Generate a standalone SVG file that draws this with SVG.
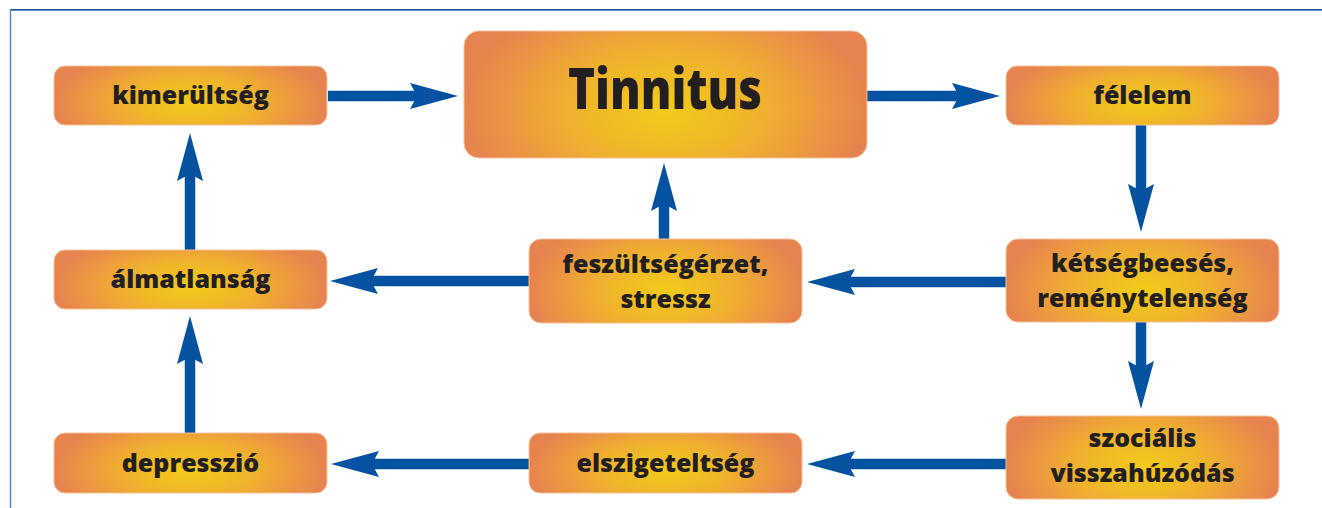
<svg xmlns="http://www.w3.org/2000/svg" width="1322" height="508" viewBox="0 0 1322 508">
<style>
.box{fill:url(#g);stroke:#F4C09A;stroke-width:1}
.t{font-family:"Open Sans","Liberation Sans",sans-serif;font-weight:800;font-size:25px;fill:#231F20;text-anchor:middle}
.big{font-size:56px}
.c line{stroke:#0553A0;stroke-width:10.5;marker-end:url(#ah)}
</style>
<defs>
<radialGradient id="g" cx="0.5" cy="0.62" r="0.5" gradientTransform="translate(0.5,0.62) scale(1,1.9) translate(-0.5,-0.62)">
<stop offset="0" stop-color="#F3CB17"/>
<stop offset="0.5" stop-color="#EFB02F"/>
<stop offset="1" stop-color="#E7834F"/>
</radialGradient>
<marker id="ah" markerUnits="userSpaceOnUse" orient="auto" refX="0" refY="0" markerWidth="60" markerHeight="30" style="overflow:visible">
<path d="M-8,-13 L40,0 L-8,13 L-1,0 Z" fill="#0553A0"/>
</marker>
</defs>
<rect width="1322" height="508" fill="#fff"/>
<g id="frame">
<line x1="10" y1="9.5" x2="1322" y2="9.5" stroke="#22508F" stroke-width="1"/>
<line x1="10" y1="10.5" x2="1322" y2="10.5" stroke="#5E95D0" stroke-width="1"/>
<line x1="10.5" y1="9" x2="10.5" y2="508" stroke="#4F88C8" stroke-width="1.5"/>
</g>
<g class="c" id="connectors">
<line x1="328" y1="96" x2="418" y2="96"/>
<line x1="867" y1="96" x2="960" y2="96"/>
<line x1="1141" y1="125" x2="1141" y2="192"/>
<line x1="1141" y1="322" x2="1141" y2="369"/>
<line x1="1006" y1="282" x2="847" y2="282"/>
<line x1="664" y1="239" x2="664" y2="203"/>
<line x1="529" y1="281" x2="370" y2="281"/>
<line x1="1006" y1="464" x2="847" y2="464"/>
<line x1="529" y1="464" x2="371" y2="464"/>
<line x1="190" y1="433" x2="190" y2="356"/>
<line x1="190" y1="250" x2="190" y2="173"/>
</g>
<g id="n-kimerultseg"><rect class="box" x="54" y="66" width="273" height="59" rx="11"/><text class="t" x="190.5" y="103.5">kimerültség</text></g>
<g id="n-tinnitus"><rect class="box" x="464" y="31" width="403" height="127" rx="15"/><text class="t big" x="665" y="109" textLength="194" lengthAdjust="spacingAndGlyphs">Tinnitus</text></g>
<g id="n-felelem"><rect class="box" x="1006" y="66" width="273" height="59" rx="11"/><text class="t" x="1142.5" y="103.5">félelem</text></g>
<g id="n-almatlansag"><rect class="box" x="54" y="250" width="273" height="59" rx="11"/><text class="t" x="190.5" y="287.5">álmatlanság</text></g>
<g id="n-feszultseg"><rect class="box" x="529" y="239" width="273" height="84" rx="12"/><text class="t" x="665.5" y="273">feszültségérzet,</text><text class="t" x="665.5" y="308">stressz</text></g>
<g id="n-ketsegbeeses"><rect class="box" x="1006" y="239" width="273" height="83" rx="12"/><text class="t" x="1142.5" y="272">kétségbeesés,</text><text class="t" x="1142.5" y="307">reménytelenség</text></g>
<g id="n-depresszio"><rect class="box" x="54" y="433" width="273" height="60" rx="11"/><text class="t" x="190.5" y="472">depresszió</text></g>
<g id="n-elszigeteltseg"><rect class="box" x="529" y="433" width="273" height="60" rx="11"/><text class="t" x="665.5" y="472">elszigeteltség</text></g>
<g id="n-szocialis"><rect class="box" x="1006" y="416" width="273" height="83" rx="12"/><text class="t" x="1142.5" y="447">szociális</text><text class="t" x="1142.5" y="482">visszahúzódás</text></g>
</svg>
